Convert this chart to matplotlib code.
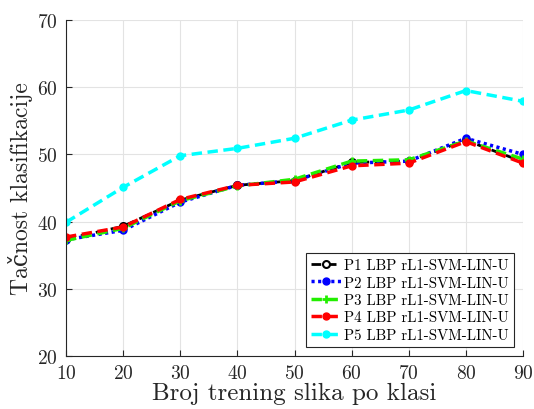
import matplotlib
matplotlib.use("Agg")
import matplotlib.pyplot as plt

x = [10, 20, 30, 40, 50, 60, 70, 80, 90]
p1 = [37.4, 39.3, 43.2, 45.4, 46.1, 48.8, 49.0, 52.1, 48.9]
p2 = [37.3, 38.7, 42.9, 45.4, 46.1, 48.7, 49.0, 52.4, 50.0]
p3 = [37.2, 39.0, 43.1, 45.3, 46.3, 49.0, 49.2, 52.0, 49.3]
p4 = [37.7, 39.2, 43.3, 45.4, 45.9, 48.3, 48.7, 51.9, 48.7]
p5 = [39.9, 45.1, 49.8, 50.9, 52.4, 55.1, 56.6, 59.5, 57.9]
labels = ["P1 LBP rL1-SVM-LIN-U", "P2 LBP rL1-SVM-LIN-U", "P3 LBP rL1-SVM-LIN-U",
          "P4 LBP rL1-SVM-LIN-U", "P5 LBP rL1-SVM-LIN-U"]
xticks = [10, 20, 30, 40, 50, 60, 70, 80, 90]
yticks = [20, 30, 40, 50, 60, 70]

plt.rcParams['font.family'] = ['cmr10', 'DejaVu Serif']
plt.rcParams['mathtext.fontset'] = 'cm'
plt.rcParams['axes.formatter.use_mathtext'] = True

fig = plt.figure(figsize=(5.34, 4.10), dpi=100)
ax = fig.add_axes([66/534, 1-357/410, (523-66)/534, (357-21)/410])

ax.plot(x, p1, '--o', color='black', lw=2, ms=5, mfc='white', mew=1.5,
        dashes=(3.5, 2), label=labels[0])
ax.plot(x, p2, ':o', color='blue', lw=2.5, ms=5, dashes=(0.9, 1.0), label=labels[1])
ax.plot(x, p3, '--+', color='#22ee00', lw=2.5, ms=6, mew=2, dashes=(3, 1.6), label=labels[2])
ax.plot(x, p4, '--o', color='red', lw=2.5, ms=5, dashes=(3, 1.6), label=labels[3])
ax.plot(x, p5, '--o', color='cyan', lw=2.5, ms=5, dashes=(3, 1.6), label=labels[4])

ax.set_xlim(10, 90)
ax.set_ylim(20, 70)
ax.set_xticks(xticks)
ax.set_yticks(yticks)
ax.grid(True, color='#e3e3e3', lw=0.8)
ax.set_axisbelow(True)
for s in ['top', 'right']:
    ax.spines[s].set_visible(False)
for s in ['left', 'bottom']:
    ax.spines[s].set_color('#262626')
    ax.spines[s].set_linewidth(0.8)
ax.tick_params(direction='in', length=4, labelsize=14, colors='#262626', pad=6)

ax.set_xlabel('Broj trening slika po klasi', fontsize=18, labelpad=0, color='#262626')
ax.set_ylabel('Tačnost klasifikacije', fontsize=17, labelpad=3, color='#262626')

leg = ax.legend(loc='lower right', fontsize=10.7, frameon=True, fancybox=False,
                edgecolor='#262626', framealpha=1, handlelength=2.0,
                handletextpad=0.2, borderpad=0.35, labelspacing=0.25,
                borderaxespad=0.6, bbox_to_anchor=(1.0, 0.0))
leg.get_frame().set_linewidth(0.8)

fig.savefig('out.png', dpi=100)
